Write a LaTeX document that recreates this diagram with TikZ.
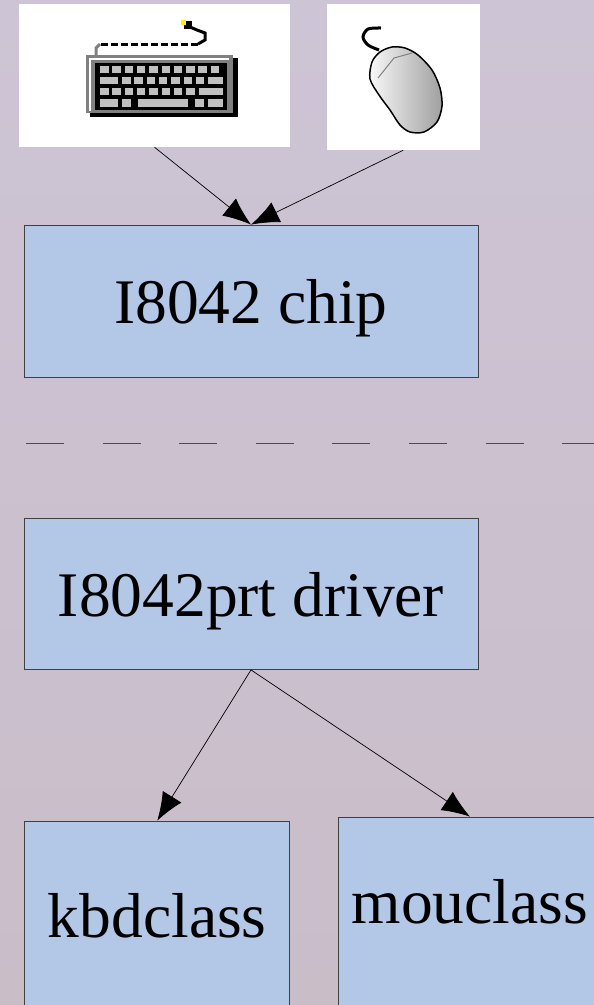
\documentclass[tikz,border=0pt]{standalone}
\usepackage{fontspec}
\setmainfont{Liberation Serif}
\usetikzlibrary{arrows.meta}
\definecolor{boxblue}{HTML}{B3C7E6}
\definecolor{sandtop}{HTML}{CDC4D5}
\definecolor{sandbot}{HTML}{C9BDC8}
\definecolor{keygray}{HTML}{C0C0C0}
\begin{document}
\begin{tikzpicture}[x=1pt, y=-1pt,
		unitbox/.style={draw=black!75, fill=boxblue, line width=0.8pt, inner sep=0pt,
			font=\fontsize{63.5}{70}\selectfont, text height=44pt, text depth=0pt},
		classbox/.style={unitbox, text depth=44pt},
		iconbox/.style={fill=white, inner sep=0pt},
		link/.style={line width=0.7pt, -{Latex[length=28pt,width=22pt]}}]
		\useasboundingbox (0,0) rectangle (594,1005);
		\shade[top color=sandtop, bottom color=sandbot] (0,0) rectangle (594,1005); % Background
		\clip (0,0) rectangle (594,1005);
		\node[iconbox, minimum width=271pt, minimum height=143pt] (keys) at (154.5,75.5) {};
		\node[iconbox, minimum width=153.5pt, minimum height=146pt] (mouse) at (403.25,77) {};
		% Keyboard
		\fill[black] (90,58) rectangle (238,117);
		\fill[gray] (86,55) rectangle (233,113);
		\draw[white, line width=1.2pt] (90,111) |- (229,59);
		\fill[black] (95,63) rectangle (227,110);
		\foreach \x in {0,...,9} \fill[keygray] (100+12.3*\x,66) rectangle +(8.5,7);
		\fill[keygray] (100,77) rectangle (118,84);
		\foreach \x in {0,...,6} \fill[keygray] (122+12.3*\x,77) rectangle +(8.5,7);
		\fill[keygray] (208,77) rectangle (223,84);
		\foreach \x in {0,...,7} \fill[keygray] (100+12.3*\x,88) rectangle +(8.5,7);
		\fill[keygray] (199,88) rectangle (223,95);
		\fill[keygray] (100,99) rectangle (118,107);
		\fill[keygray] (122,99) rectangle (131,107);
		\fill[keygray] (138,99) rectangle (188,107);
		\fill[keygray] (195,99) rectangle (204,107);
		\fill[keygray] (208,99) rectangle (223,107);
		\draw[gray, line width=3pt] (96,55) -- (96,48) -- (100,44);
		\draw[black, line width=3pt, dash pattern=on 7pt off 3pt] (101,44) -- (198,44);
		\draw[black, line width=3pt] (198,44) -- (205,40) -- (205,33) -- (197,30) -- (190,27);
		\fill[black] (184,21) rectangle (192,29); % Plug
		\fill[yellow] (181,20) rectangle (186,25);
		% Mouse
		\draw[black, line width=3pt] plot[smooth] coordinates {(381,28) (368,29) (363,37) (368,45) (379,50)};
		\path[draw=black, line width=1.5pt, left color=white!95!gray, right color=gray!75]
			plot[smooth cycle] coordinates {(372,62) (380,52) (392,47) (405,48) (418,55) (432,70)
				(440,88) (442,106) (437,122) (424,132) (410,132) (400,125) (390,110) (379,95) (370,79)};
		\draw[gray, line width=1pt] (378,78) -- (394,58) -- (412,53);
		% Boxes
		\node[unitbox, minimum width=454pt, minimum height=152pt] (chip) at (251,301) {I8042 chip};
		\node[unitbox, minimum width=454pt, minimum height=151pt] (driver) at (251,594) {I8042prt driver};
		\node[classbox, minimum width=265pt, minimum height=232pt] (kbd) at (157.3,937) {kbdclass};
		\node[classbox, minimum width=264pt, minimum height=212pt] (mou) at (470,923) {mouclass};
		\draw[black!70, line width=0.8pt, dash pattern=on 38pt off 38.6pt] (26,443) -- (594,443); % Separator
		\draw[link] (keys.south) -- (chip.north);
		\draw[link] (mouse.south) -- (chip.north);
		\draw[link] (driver.south) -- (kbd.north);
		\draw[link] (driver.south) -- (mou.north);
	\end{tikzpicture}
\end{document}
